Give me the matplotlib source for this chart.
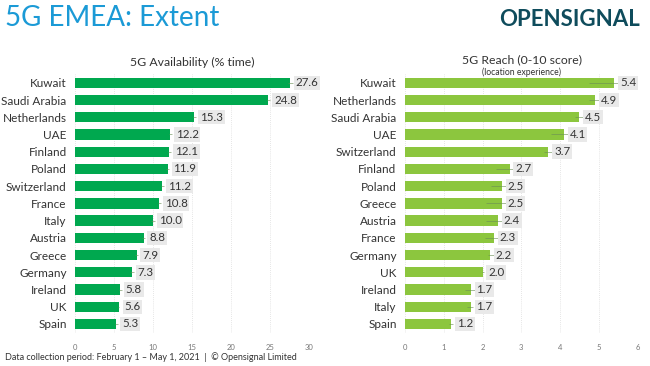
import numpy as np
import matplotlib.pyplot as plt

plt.rcParams["font.family"] = ["Lato", "DejaVu Sans"]

# left panel: 5G Availability (% time)
avail_countries = ["Kuwait", "Saudi Arabia", "Netherlands", "UAE", "Finland", "Poland",
                   "Switzerland", "France", "Italy", "Austria", "Greece", "Germany",
                   "Ireland", "UK", "Spain"]
avail_values = [27.6, 24.8, 15.3, 12.2, 12.1, 11.9, 11.2, 10.8, 10.0, 8.8, 7.9, 7.3, 5.8, 5.6, 5.3]
avail_low = [27.3, 24.6, 15.1, 12.0, 11.9, 11.7, 11.0, 10.6, 9.8, 8.6, 7.7, 7.1, 5.6, 5.5, 5.1]
avail_high = [27.9, 25.0, 15.5, 12.4, 12.3, 12.1, 11.4, 11.0, 10.2, 9.0, 8.1, 7.5, 6.0, 5.7, 5.5]

# right panel: 5G Reach (0-10 score)
reach_countries = ["Kuwait", "Netherlands", "Saudi Arabia", "UAE", "Switzerland", "Finland",
                   "Poland", "Greece", "Austria", "France", "Germany", "UK", "Ireland",
                   "Italy", "Spain"]
reach_values = [5.4, 4.9, 4.5, 4.1, 3.7, 2.7, 2.5, 2.5, 2.4, 2.3, 2.2, 2.0, 1.7, 1.7, 1.2]
reach_low = [4.75, 4.74, 4.38, 3.76, 3.58, 2.36, 2.23, 2.1, 2.1, 2.06, 2.14, 1.98, 1.55, 1.6, 1.13]
reach_high = [6.0, 5.05, 4.6, 4.4, 3.8, 2.95, 2.7, 2.6, 2.6, 2.45, 2.3, 2.05, 1.8, 1.75, 1.25]

GREEN_DARK = "#00a84f"
GREEN_LIGHT = "#8cc63e"
TEXT = "#333333"


def draw_panel(ax, names, vals, lo, hi, color, xmax, ticks):
    y = np.arange(len(names))
    err = [np.array(vals) - np.array(lo), np.array(hi) - np.array(vals)]
    ax.barh(y, vals, height=0.6, color=color, zorder=2)
    ax.errorbar(vals, y, xerr=err, fmt="none", ecolor="#6a8f55", elinewidth=0.6,
                capsize=0, alpha=0.7, zorder=3)
    for yi, v in zip(y, vals):
        ax.annotate(f"{v:.1f}", (v, yi), xytext=(4, 0), textcoords="offset points",
                    va="center", ha="left", fontsize=8.3, color=TEXT, zorder=4,
                    bbox=dict(boxstyle="square,pad=0.15", fc="#e9e9e9", ec="none"))
    ax.set_yticks(y)
    ax.set_yticklabels(names, fontsize=8.5, color=TEXT)
    ax.set_ylim(len(names) - 0.5, -0.5)
    ax.set_xlim(0, xmax)
    ax.set_xticks(ticks)
    ax.set_xticklabels([str(t) for t in ticks], fontsize=5.5, color="#777777")
    ax.tick_params(length=0, pad=8)
    ax.tick_params(axis="y", pad=6)
    for s in ax.spines.values():
        s.set_visible(False)
    ax.grid(axis="x", color="#dddddd", linestyle=(0, (1, 1.5)), linewidth=0.6, zorder=0)
    ax.set_axisbelow(True)


fig = plt.figure(figsize=(6.5, 3.66), dpi=100, facecolor="white")
ax1 = fig.add_axes([0.1154, 0.0913, 0.36, 0.706])
ax2 = fig.add_axes([0.623, 0.0913, 0.358, 0.706])

draw_panel(ax1, avail_countries, avail_values, avail_low, avail_high, GREEN_DARK, 30, [0, 5, 10, 15, 20, 25, 30])
draw_panel(ax2, reach_countries, reach_values, reach_low, reach_high, GREEN_LIGHT, 6, [0, 1, 2, 3, 4, 5, 6])

fig.text(192 / 650, 1 - 62 / 366, "5G Availability (% time)", ha="center", va="center",
         fontsize=8.8, color=TEXT)
fig.text(522 / 650, 1 - 60 / 366, "5G Reach (0-10 score)", ha="center", va="center",
         fontsize=8.8, color=TEXT)
fig.text(522 / 650, 1 - 72 / 366, "(location experience)", ha="center", va="center",
         fontsize=6.2, color=TEXT)

fig.text(5 / 650, 1 - 18 / 366, "5G EMEA: Extent", ha="left", va="center",
         fontsize=20, color="#1b9ad6")
fig.text(640 / 650, 1 - 20 / 366, "OPENSIGNAL", ha="right", va="center",
         fontsize=16, fontweight="bold", color="#0f4c5c")
fig.text(5 / 650, 1 - 357 / 366, "Data collection period: February 1 \u2013 May 1, 2021  |  \u00a9 Opensignal Limited",
         ha="left", va="center", fontsize=6.5, color=TEXT)

fig.savefig("out.png", dpi=100, facecolor="white")
